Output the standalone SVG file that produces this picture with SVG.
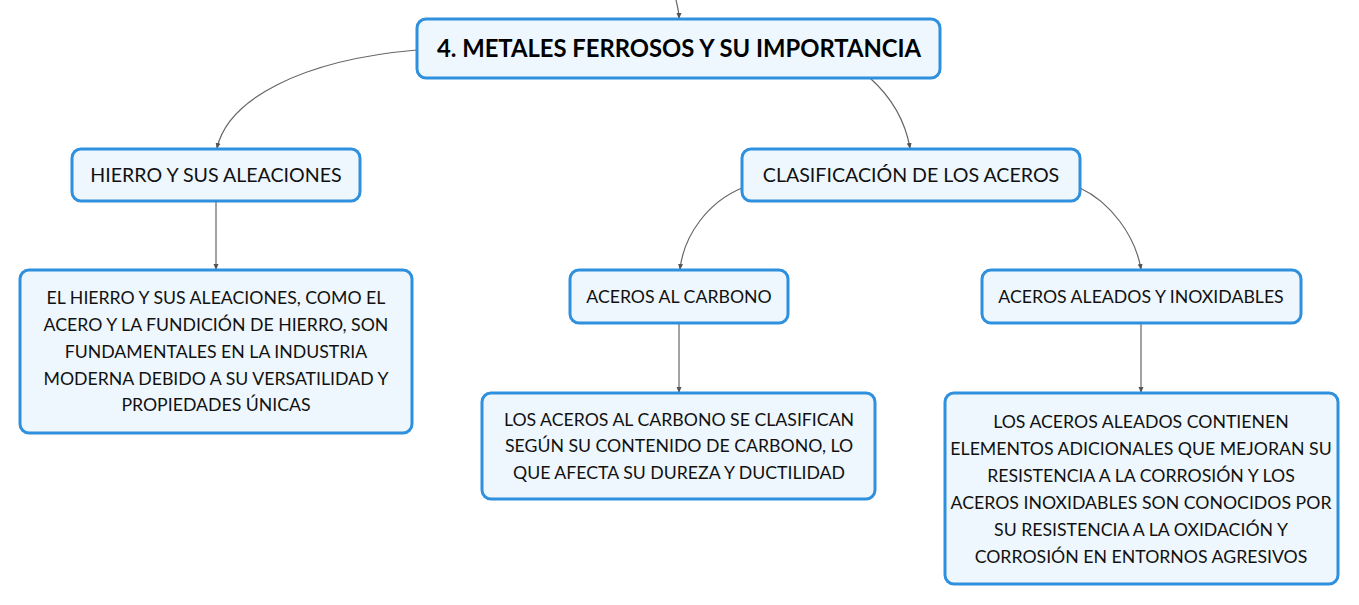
<svg xmlns="http://www.w3.org/2000/svg" width="1359" height="605" viewBox="0 0 1359 605">
<defs>
<style>
.box{fill:#eef7fd;stroke:#2f90de;stroke-width:3}
.t{font-family:Lato,"Noto Sans",sans-serif;font-size:17.7px;fill:#111;text-anchor:middle}
.l{font-family:Lato,"Noto Sans",sans-serif;font-size:19.6px;fill:#111;text-anchor:middle}
.h{font-family:Lato,"Noto Sans",sans-serif;font-size:23.8px;font-weight:bold;fill:#000;text-anchor:middle}
.c{fill:none;stroke:#666;stroke-width:1.2;marker-end:url(#a)}
</style>
<marker id="a" viewBox="0 0 6 6" refX="5" refY="3" markerWidth="6" markerHeight="6" markerUnits="userSpaceOnUse" orient="auto">
<path d="M0,0.5 L6,3 L0,5.5 Z" fill="#555"/>
</marker>
</defs>
<rect width="1359" height="605" fill="#fff"/>
<g id="connectors">
<path class="c" d="M676,0 C678,8 679,13 679,18"/>
<path class="c" d="M417,50 C300,60 228,100 217,148"/>
<path class="c" d="M870,78 C890,96 905,120 910,148"/>
<path class="c" d="M216,201 L216,269"/>
<path class="c" d="M742,188 C708,202 684,235 680,269"/>
<path class="c" d="M1080,188 C1110,202 1135,235 1141,269"/>
<path class="c" d="M679,323 L679,392"/>
<path class="c" d="M1141,323 L1141,392"/>
</g>
<g id="root">
<rect class="box" x="417" y="19" width="523" height="59" rx="9"/>
<text class="h" x="679" y="57">4. METALES FERROSOS Y SU IMPORTANCIA</text>
</g>
<g id="hierro">
<rect class="box" x="72" y="149" width="288" height="52" rx="9"/>
<text class="l" x="216" y="182">HIERRO Y SUS ALEACIONES</text>
</g>
<g id="clasificacion">
<rect class="box" x="742" y="149" width="338" height="52" rx="9"/>
<text class="l" x="911" y="182">CLASIFICACIÓN DE LOS ACEROS</text>
</g>
<g id="hierro-texto">
<rect class="box" x="20" y="270" width="392" height="163" rx="9"/>
<text class="t" x="216" y="304">EL HIERRO Y SUS ALEACIONES, COMO EL</text>
<text class="t" x="216" y="331">ACERO Y LA FUNDICIÓN DE HIERRO, SON</text>
<text class="t" x="216" y="358">FUNDAMENTALES EN LA INDUSTRIA</text>
<text class="t" x="216" y="385">MODERNA DEBIDO A SU VERSATILIDAD Y</text>
<text class="t" x="216" y="411">PROPIEDADES ÚNICAS</text>
</g>
<g id="carbono">
<rect class="box" x="570" y="270" width="218" height="53" rx="9"/>
<text class="t" x="679" y="303">ACEROS AL CARBONO</text>
</g>
<g id="aleados">
<rect class="box" x="982" y="270" width="319" height="53" rx="9"/>
<text class="t" x="1141" y="303">ACEROS ALEADOS Y INOXIDABLES</text>
</g>
<g id="carbono-texto">
<rect class="box" x="482" y="393" width="393" height="106" rx="9"/>
<text class="t" x="679" y="426">LOS ACEROS AL CARBONO SE CLASIFICAN</text>
<text class="t" x="679" y="452">SEGÚN SU CONTENIDO DE CARBONO, LO</text>
<text class="t" x="679" y="479">QUE AFECTA SU DUREZA Y DUCTILIDAD</text>
</g>
<g id="aleados-texto">
<rect class="box" x="945" y="393" width="393" height="191" rx="9"/>
<text class="t" x="1141" y="428">LOS ACEROS ALEADOS CONTIENEN</text>
<text class="t" x="1141" y="455">ELEMENTOS ADICIONALES QUE MEJORAN SU</text>
<text class="t" x="1141" y="482">RESISTENCIA A LA CORROSIÓN Y LOS</text>
<text class="t" x="1141" y="509">ACEROS INOXIDABLES SON CONOCIDOS POR</text>
<text class="t" x="1141" y="536">SU RESISTENCIA A LA OXIDACIÓN Y</text>
<text class="t" x="1141" y="563">CORROSIÓN EN ENTORNOS AGRESIVOS</text>
</g>
</svg>
